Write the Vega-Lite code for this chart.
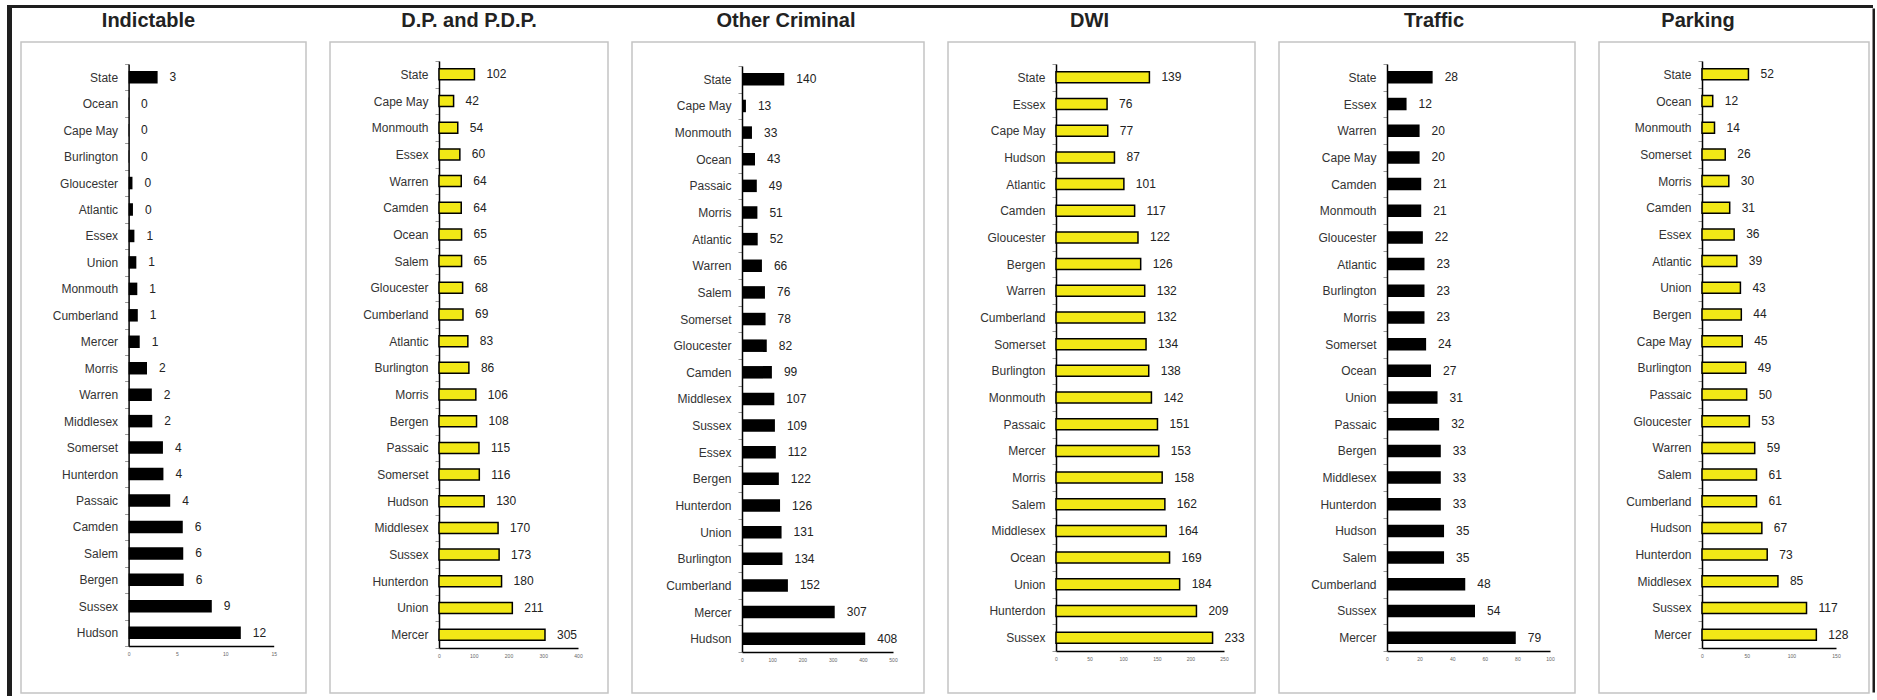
{
  "$schema": "https://vega.github.io/schema/vega-lite/v6.json",
  "background": "white",
  "padding": {"left": 7, "top": 5, "right": 0, "bottom": 0},
  "config": {
    "font": "Liberation Sans",
    "view": {"stroke": "#c4c4c4", "strokeWidth": 1.5},
    "title": {"fontSize": 20, "fontWeight": "bold", "color": "#222", "font": "Liberation Sans", "offset": 5},
    "axisY": {"labelFontSize": 12, "labelColor": "#333", "labelFont": "Liberation Sans", "domainColor": "#000", "domainWidth": 1.5, "tickColor": "#999", "tickSize": 4, "labelPadding": 7, "tickBand": "extent", "title": null, "grid": false},
    "axisX": {"labelFontSize": 5, "labelColor": "#666", "domainColor": "#000", "domainWidth": 1.5, "tickSize": 0, "labelPadding": 5, "title": null, "grid": false, "labelFlush": false}
  },
  "spacing": 0,
  "vconcat": [
    {"width": 1866, "height": 3, "data": {"values": []}, "mark": {"type": "rule"}, "encoding": {}, "view": {"fill": "#1e1e1e", "stroke": null}},
    {
      "spacing": 3.5,
      "hconcat": [
        {"width": 5, "height": 688, "data": {"values": []}, "mark": {"type": "rule"}, "encoding": {}, "view": {"fill": "#1e1e1e", "stroke": null}},
        {"width": 1, "height": 1, "data": {"values": []}, "mark": {"type": "rule"}, "encoding": {}, "view": {"stroke": null}},
        {
          "spacing": 33,
          "bounds": "flush",
          "vconcat": [
            {"width": 1, "height": 1, "data": {"values": []}, "mark": {"type": "rule"}, "encoding": {}, "view": {"stroke": null}},
            {
              "spacing": 24,
              "bounds": "flush",
              "hconcat": [
                {
                  "title": {"text": "Indictable", "dx": -15},
                  "width": 285, "height": 651,
                  "data": {"values": [
                    {"county": "State", "v": 3.0}, {"county": "Ocean", "v": 0.05}, {"county": "Cape May", "v": 0.05}, {"county": "Burlington", "v": 0.05},
                    {"county": "Gloucester", "v": 0.4}, {"county": "Atlantic", "v": 0.45}, {"county": "Essex", "v": 0.6}, {"county": "Union", "v": 0.8},
                    {"county": "Monmouth", "v": 0.9}, {"county": "Cumberland", "v": 0.95}, {"county": "Mercer", "v": 1.15}, {"county": "Morris", "v": 1.9},
                    {"county": "Warren", "v": 2.4}, {"county": "Middlesex", "v": 2.45}, {"county": "Somerset", "v": 3.55}, {"county": "Hunterdon", "v": 3.6},
                    {"county": "Passaic", "v": 4.3}, {"county": "Camden", "v": 5.6}, {"county": "Salem", "v": 5.65}, {"county": "Bergen", "v": 5.7},
                    {"county": "Sussex", "v": 8.6}, {"county": "Hudson", "v": 11.6}
                  ]},
                  "encoding": {
                    "y": {"field": "county", "type": "nominal", "sort": null, "scale": {"range": [22, 604], "paddingInner": 0, "paddingOuter": 0}, "axis": {"offset": -107.6}},
                    "x": {"field": "v", "type": "quantitative", "scale": {"domain": [0, 15], "range": [107.6, 252.7], "nice": false}, "axis": {"offset": -47, "values": [0, 5, 10, 15]}}
                  },
                  "layer": [
                    {"mark": {"type": "bar", "color": "#000", "size": 12.5}},
                    {"mark": {"type": "text", "align": "left", "dx": 12, "fontSize": 12, "color": "#222"}, "encoding": {"text": {"field": "v", "format": ".0f"}}}
                  ]
                },
                {
                  "title": {"text": "D.P. and P.D.P.", "dx": 0},
                  "width": 278, "height": 651,
                  "data": {"values": [
                    {"county": "State", "v": 102}, {"county": "Cape May", "v": 42}, {"county": "Monmouth", "v": 54}, {"county": "Essex", "v": 60},
                    {"county": "Warren", "v": 64}, {"county": "Camden", "v": 64}, {"county": "Ocean", "v": 65}, {"county": "Salem", "v": 65},
                    {"county": "Gloucester", "v": 68}, {"county": "Cumberland", "v": 69}, {"county": "Atlantic", "v": 83}, {"county": "Burlington", "v": 86},
                    {"county": "Morris", "v": 106}, {"county": "Bergen", "v": 108}, {"county": "Passaic", "v": 115}, {"county": "Somerset", "v": 116},
                    {"county": "Hudson", "v": 130}, {"county": "Middlesex", "v": 170}, {"county": "Sussex", "v": 173}, {"county": "Hunterdon", "v": 180},
                    {"county": "Union", "v": 211}, {"county": "Mercer", "v": 305}
                  ]},
                  "encoding": {
                    "y": {"field": "county", "type": "nominal", "sort": null, "scale": {"range": [19, 606], "paddingInner": 0, "paddingOuter": 0}, "axis": {"offset": -109}},
                    "x": {"field": "v", "type": "quantitative", "scale": {"domain": [0, 400], "range": [109, 248], "nice": false}, "axis": {"offset": -45, "values": [0, 100, 200, 300, 400]}}
                  },
                  "layer": [
                    {"mark": {"type": "bar", "color": "#f2e816", "stroke": "#000", "strokeWidth": 1.5, "size": 11}},
                    {"mark": {"type": "text", "align": "left", "dx": 12, "fontSize": 12, "color": "#222"}, "encoding": {"text": {"field": "v", "format": ".0f"}}}
                  ]
                },
                {
                  "title": {"text": "Other Criminal", "dx": 8},
                  "width": 292, "height": 651,
                  "data": {"values": [
                    {"county": "State", "v": 140}, {"county": "Cape May", "v": 13}, {"county": "Monmouth", "v": 33}, {"county": "Ocean", "v": 43},
                    {"county": "Passaic", "v": 49}, {"county": "Morris", "v": 51}, {"county": "Atlantic", "v": 52}, {"county": "Warren", "v": 66},
                    {"county": "Salem", "v": 76}, {"county": "Somerset", "v": 78}, {"county": "Gloucester", "v": 82}, {"county": "Camden", "v": 99},
                    {"county": "Middlesex", "v": 107}, {"county": "Sussex", "v": 109}, {"county": "Essex", "v": 112}, {"county": "Bergen", "v": 122},
                    {"county": "Hunterdon", "v": 126}, {"county": "Union", "v": 131}, {"county": "Burlington", "v": 134}, {"county": "Cumberland", "v": 152},
                    {"county": "Mercer", "v": 307}, {"county": "Hudson", "v": 408}
                  ]},
                  "encoding": {
                    "y": {"field": "county", "type": "nominal", "sort": null, "scale": {"range": [24, 610], "paddingInner": 0, "paddingOuter": 0}, "axis": {"offset": -110}},
                    "x": {"field": "v", "type": "quantitative", "scale": {"domain": [0, 500], "range": [110, 261], "nice": false}, "axis": {"offset": -41, "values": [0, 100, 200, 300, 400, 500]}}
                  },
                  "layer": [
                    {"mark": {"type": "bar", "color": "#000", "size": 12.5}},
                    {"mark": {"type": "text", "align": "left", "dx": 12, "fontSize": 12, "color": "#222"}, "encoding": {"text": {"field": "v", "format": ".0f"}}}
                  ]
                },
                {
                  "title": {"text": "DWI", "dx": -12},
                  "width": 307, "height": 651,
                  "data": {"values": [
                    {"county": "State", "v": 139}, {"county": "Essex", "v": 76}, {"county": "Cape May", "v": 77}, {"county": "Hudson", "v": 87},
                    {"county": "Atlantic", "v": 101}, {"county": "Camden", "v": 117}, {"county": "Gloucester", "v": 122}, {"county": "Bergen", "v": 126},
                    {"county": "Warren", "v": 132}, {"county": "Cumberland", "v": 132}, {"county": "Somerset", "v": 134}, {"county": "Burlington", "v": 138},
                    {"county": "Monmouth", "v": 142}, {"county": "Passaic", "v": 151}, {"county": "Mercer", "v": 153}, {"county": "Morris", "v": 158},
                    {"county": "Salem", "v": 162}, {"county": "Middlesex", "v": 164}, {"county": "Ocean", "v": 169}, {"county": "Union", "v": 184},
                    {"county": "Hunterdon", "v": 209}, {"county": "Sussex", "v": 233}
                  ]},
                  "encoding": {
                    "y": {"field": "county", "type": "nominal", "sort": null, "scale": {"range": [22, 609], "paddingInner": 0, "paddingOuter": 0}, "axis": {"offset": -108}},
                    "x": {"field": "v", "type": "quantitative", "scale": {"domain": [0, 250], "range": [108, 276], "nice": false}, "axis": {"offset": -42, "values": [0, 50, 100, 150, 200, 250]}}
                  },
                  "layer": [
                    {"mark": {"type": "bar", "color": "#f2e816", "stroke": "#000", "strokeWidth": 1.5, "size": 11}},
                    {"mark": {"type": "text", "align": "left", "dx": 12, "fontSize": 12, "color": "#222"}, "encoding": {"text": {"field": "v", "format": ".0f"}}}
                  ]
                },
                {
                  "title": {"text": "Traffic", "dx": 7},
                  "width": 296, "height": 651,
                  "data": {"values": [
                    {"county": "State", "v": 28}, {"county": "Essex", "v": 12}, {"county": "Warren", "v": 20}, {"county": "Cape May", "v": 20},
                    {"county": "Camden", "v": 21}, {"county": "Monmouth", "v": 21}, {"county": "Gloucester", "v": 22}, {"county": "Atlantic", "v": 23},
                    {"county": "Burlington", "v": 23}, {"county": "Morris", "v": 23}, {"county": "Somerset", "v": 24}, {"county": "Ocean", "v": 27},
                    {"county": "Union", "v": 31}, {"county": "Passaic", "v": 32}, {"county": "Bergen", "v": 33}, {"county": "Middlesex", "v": 33},
                    {"county": "Hunterdon", "v": 33}, {"county": "Hudson", "v": 35}, {"county": "Salem", "v": 35}, {"county": "Cumberland", "v": 48},
                    {"county": "Sussex", "v": 54}, {"county": "Mercer", "v": 79}
                  ]},
                  "encoding": {
                    "y": {"field": "county", "type": "nominal", "sort": null, "scale": {"range": [22, 609], "paddingInner": 0, "paddingOuter": 0}, "axis": {"offset": -108}},
                    "x": {"field": "v", "type": "quantitative", "scale": {"domain": [0, 100], "range": [108, 271], "nice": false}, "axis": {"offset": -42, "values": [0, 20, 40, 60, 80, 100]}}
                  },
                  "layer": [
                    {"mark": {"type": "bar", "color": "#000", "size": 12.5}},
                    {"mark": {"type": "text", "align": "left", "dx": 12, "fontSize": 12, "color": "#222"}, "encoding": {"text": {"field": "v", "format": ".0f"}}}
                  ]
                },
                {
                  "title": {"text": "Parking", "dx": -36},
                  "width": 270, "height": 651,
                  "data": {"values": [
                    {"county": "State", "v": 52}, {"county": "Ocean", "v": 12}, {"county": "Monmouth", "v": 14}, {"county": "Somerset", "v": 26},
                    {"county": "Morris", "v": 30}, {"county": "Camden", "v": 31}, {"county": "Essex", "v": 36}, {"county": "Atlantic", "v": 39},
                    {"county": "Union", "v": 43}, {"county": "Bergen", "v": 44}, {"county": "Cape May", "v": 45}, {"county": "Burlington", "v": 49},
                    {"county": "Passaic", "v": 50}, {"county": "Gloucester", "v": 53}, {"county": "Warren", "v": 59}, {"county": "Salem", "v": 61},
                    {"county": "Cumberland", "v": 61}, {"county": "Hudson", "v": 67}, {"county": "Hunterdon", "v": 73}, {"county": "Middlesex", "v": 85},
                    {"county": "Sussex", "v": 117}, {"county": "Mercer", "v": 128}
                  ]},
                  "encoding": {
                    "x": {"field": "v", "type": "quantitative", "scale": {"domain": [0, 150], "range": [103, 237], "nice": false}, "axis": {"offset": -45, "values": [0, 50, 100, 150]}}
                  },
                  "resolve": {"scale": {"y": "independent"}, "axis": {"y": "independent"}},
                  "layer": [
                    {
                      "encoding": {
                        "y": {"field": "county", "type": "nominal", "sort": null, "scale": {"range": [19, 606], "paddingInner": 0, "paddingOuter": 0}, "axis": {"orient": "left", "offset": -103}}
                      },
                      "layer": [
                        {"mark": {"type": "bar", "color": "#f2e816", "stroke": "#000", "strokeWidth": 1.5, "size": 11}},
                        {"mark": {"type": "text", "align": "left", "dx": 12, "fontSize": 12, "color": "#222"}, "encoding": {"text": {"field": "v", "format": ".0f"}}}
                      ]
                    },
                    {
                      "mark": {"type": "tick", "opacity": 0},
                      "encoding": {
                        "y": {"field": "v", "type": "quantitative", "scale": {"domain": [0, 1000], "range": [650, -34], "nice": false, "zero": false}, "axis": {"orient": "right", "offset": 5, "domainWidth": 4, "domainColor": "#1e1e1e", "labels": false, "ticks": false, "grid": false, "title": null}}
                      }
                    }
                  ]
                }
              ]
            }
          ]
        }
      ]
    }
  ]
}
